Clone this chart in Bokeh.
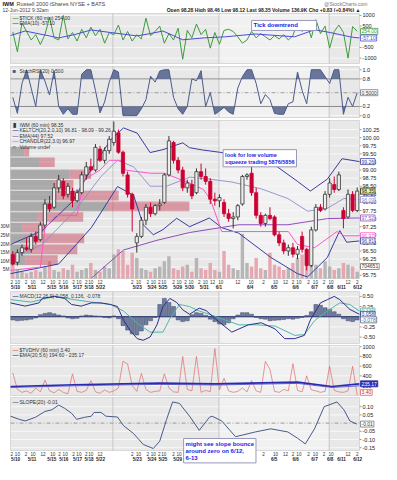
from bokeh.plotting import figure
from bokeh.models import (Range1d, Label, LabelSet, ColumnDataSource, BoxAnnotation)
from bokeh.layouts import column
from bokeh.core.properties import value
from bokeh.embed import file_html
from bokeh.resources import INLINE

# ---------------- data (IWM 60 min bars) ----------------
opens  = [96.40, 96.15, 96.45, 96.60, 96.55, 96.95, 96.85, 97.30,
          97.95, 97.85, 98.45, 98.65, 98.25, 98.35, 98.05, 98.30,
          98.85, 99.10, 99.00, 99.65, 99.30, 99.60, 99.85, 100.15,
          99.55, 98.85, 98.25, 96.75, 96.95, 97.45, 97.85, 97.65,
          97.90, 98.00, 98.85, 99.85, 99.30, 99.00, 98.45, 98.55,
          98.30, 98.95, 98.80, 98.65, 98.10, 98.05, 98.00, 97.65,
          97.50, 97.55, 97.95, 98.80, 98.90, 98.30, 97.60, 97.35,
          97.60, 97.55, 97.00, 96.75, 96.50, 96.60, 96.40, 96.95,
          96.55, 96.05, 97.15, 97.85, 97.80, 98.25, 98.55, 98.40,
          97.75, 97.55, 98.25, 97.75]
highs  = [96.50, 96.55, 96.70, 96.90, 97.05, 97.10, 97.40, 98.10,
          98.20, 98.60, 98.85, 98.75, 98.60, 98.45, 98.40, 98.95,
          99.25, 99.35, 99.80, 99.75, 99.70, 100.05, 100.50, 100.25,
          99.60, 98.95, 98.30, 97.05, 97.55, 97.95, 98.00, 97.95,
          98.10, 98.90, 100.05, 99.90, 99.40, 99.10, 98.70, 98.70,
          99.05, 99.20, 99.05, 98.75, 98.30, 98.25, 98.10, 97.80,
          97.70, 97.95, 98.85, 98.90, 99.15, 98.45, 97.70, 97.65,
          97.85, 97.60, 97.10, 96.85, 96.70, 96.75, 96.65, 97.10,
          96.60, 97.25, 97.95, 97.95, 98.35, 98.75, 98.80, 98.95,
          97.85, 98.40, 98.35, 98.46]
lows   = [96.05, 96.05, 96.35, 96.50, 96.45, 96.70, 96.80, 97.20,
          97.70, 97.80, 98.30, 98.10, 98.15, 97.85, 98.00, 98.25,
          98.70, 98.95, 98.95, 99.25, 99.20, 99.50, 99.75, 99.50,
          98.80, 98.15, 97.10, 96.45, 96.90, 97.30, 97.55, 97.60,
          97.75, 97.95, 98.80, 99.20, 98.90, 98.35, 98.30, 98.10,
          98.25, 98.70, 98.55, 97.95, 97.90, 97.85, 97.55, 97.40,
          97.20, 97.45, 97.90, 98.70, 98.20, 97.50, 97.25, 97.25,
          97.45, 96.95, 96.65, 96.40, 96.35, 96.30, 96.25, 96.45,
          95.90, 96.00, 97.10, 97.70, 97.75, 98.15, 98.30, 98.35,
          97.20, 97.50, 97.70, 97.70]
closes = [96.10, 96.45, 96.60, 96.55, 96.95, 96.80, 97.30, 97.95,
          97.80, 98.45, 98.70, 98.20, 98.50, 98.05, 98.30, 98.85,
          99.10, 99.00, 99.70, 99.30, 99.60, 99.95, 100.20, 99.55,
          98.90, 98.25, 97.80, 96.95, 97.45, 97.85, 97.65, 97.90,
          97.95, 98.85, 99.90, 99.30, 99.00, 98.45, 98.60, 98.20,
          98.95, 98.80, 98.65, 98.10, 98.05, 98.15, 97.65, 97.50,
          97.55, 97.90, 98.80, 98.85, 98.30, 97.60, 97.35, 97.60,
          97.50, 97.00, 96.75, 96.50, 96.60, 96.40, 96.55, 96.55,
          96.05, 97.15, 97.85, 97.75, 98.25, 98.60, 98.40, 98.85,
          97.50, 98.25, 97.75, 98.35]
volume = [12, 5, 4, 3, 4, 5, 4, 7,
          10, 5, 4, 6, 5, 8, 4, 5,
          6, 9, 5, 4, 7, 6, 14, 17,
          16, 8, 15, 12, 6, 5, 4, 6,
          7, 10, 13, 6, 5, 7, 8, 4,
          12, 6, 5, 9, 5, 4, 16, 8,
          6, 5, 26, 9, 7, 12, 6, 5,
          15, 8, 7, 5, 6, 9, 12, 14,
          16, 9, 8, 6, 10, 7, 5, 6,
          9, 8, 7, 4]

# volume by price (zones)
vbp_price = [99.57, 99.24, 98.87, 98.54, 98.21, 97.88, 97.55, 97.22, 96.89, 96.55, 96.22]
vbp_up    = [14, 29, 60, 44, 45, 99, 27, 12, 25, 20, 15]
vbp_down  = [5, 16, 22, 20, 65, 83, 47, 23, 50, 48, 33]

# Keltner channel, EMA(44), Chandelier (x in bar units)
kcu_x = [-0.5, 6.4, 13.0, 17.1, 21.3, 24.1, 27.1, 29.9, 32.7, 37.0, 38.5, 41.3, 45.0, 49.2, 57.1, 62.0, 64.8, 68.5, 71.7, 75.5]
kcu_y = [96.70, 97.13, 98.03, 99.03, 99.93, 100.30, 100.14, 99.54, 99.63, 99.84, 99.69, 99.62, 99.55, 99.45, 99.15, 98.65, 98.35, 98.72, 99.35, 99.26]
kcm_x = [-0.5, 6.4, 13.4, 19.2, 22.8, 26.3, 29.9, 33.5, 38.5, 42.8, 47.7, 54.1, 59.9, 64.2, 68.5, 72.1, 75.5]
kcm_y = [96.25, 96.70, 97.72, 98.80, 99.30, 99.10, 98.50, 98.50, 98.78, 98.72, 98.63, 98.42, 98.12, 97.73, 97.82, 98.12, 98.09]
kcl_x = [-0.5, 10.0, 17.1, 22.8, 26.3, 28.4, 30.6, 32.7, 35.7, 38.5, 42.8, 45.5, 49.2, 56.2, 62.0, 64.2, 68.5, 71.2, 72.7, 75.5]
kcl_y = [95.80, 96.10, 97.22, 98.49, 98.22, 97.31, 97.00, 97.16, 97.51, 97.25, 97.52, 97.22, 97.05, 96.30, 95.80, 95.70, 96.30, 97.13, 96.77, 96.81]
ema44_x = [17.1, 24.1, 31.4, 38.5, 49.2, 59.9, 68.5, 75.5]
ema44_y = [95.66, 96.53, 96.83, 97.07, 97.31, 97.31, 97.50, 97.52]
chan_x = [-0.5, 6.0, 7.0, 9.5, 14.0, 15.5, 19.0, 21.0, 24.0, 24.5, 30.0, 33.0, 38.5, 41.5, 43.0, 45.5, 60.0, 62.0, 65.7, 70.6, 72.1, 75.5]
chan_y = [95.90, 96.00, 97.20, 97.60, 97.60, 98.70, 99.00, 99.30, 99.30, 99.00, 98.90, 98.90, 98.60, 98.40, 98.10, 97.10, 97.10, 96.70, 96.60, 97.10, 96.97, 96.97]

# $TICK and EMA(10)
tick = [230, -700, 650, 250, -150, 100, -360, 100,
        910, -50, -150, 1000, -100, 200, -200, 350,
        -50, 450, 50, 350, -300, 200, 100, 550,
        -150, 250, -200, 100, -100, 870, 50, 250,
        500, -300, 150, -150, 400, -1050, 300, -50,
        600, 100, 350, -530, 200, -350, 300, 350,
        250, 0, -300, -150, 250, -50, 150, 0,
        -150, 50, -100, 100, -150, 50, 700, 250,
        650, -50, 800, 150, 500, -530, 250, 550,
        200, -1000, 480, 254]
tema_x = [-0.5, 2.7, 10.0, 13.4, 17.1, 21.3, 27.1, 29.9, 32.7, 37.0, 41.7, 46.4, 52.8, 61.4, 65.7, 69.1, 73.4, 75.5]
tema_y = [60, 270, -50, 100, 320, 200, 40, 150, 270, -140, -50, 0, 130, 0, 330, 200, 0, -57.1]

# StochRSI(20)
stoch = [0.40, 0.05, 0.70, 1.00, 0.60, 0.20, 1.00, 0.75,
         0.45, 0.98, 0.20, 0.03, 0.15, 0.03, 0.03, 0.90,
         1.00, 1.00, 0.55, 0.06, 0.30, 0.73, 1.00, 0.95,
         0.00, 0.00, 0.00, 0.00, 0.15, 0.35, 0.86, 0.73,
         0.97, 1.00, 1.00, 0.40, 0.15, 0.03, 0.20, 0.80,
         0.76, 0.98, 0.20, 0.50, 0.03, 0.10, 0.18, 0.08,
         0.03, 0.60, 0.85, 1.00, 1.00, 0.70, 0.26, 0.46,
         0.35, 0.05, 0.03, 0.03, 0.26, 0.30, 0.95, 0.55,
         0.26, 1.00, 1.00, 1.00, 0.85, 0.70, 1.00, 1.00,
         0.03, 0.40, 0.20, 0.50]

# MACD(12,26,9)
macd_x = [-0.5, 2.7, 5.7, 6.4, 9.1, 11.3, 12.8, 14.9, 17.1, 19.2, 21.3, 22.8, 24.1, 25.6, 27.1, 28.4, 29.9, 31.4, 32.7, 34.2, 35.7, 37.0, 38.5, 40.6, 42.1, 44.3, 47.7, 51.3, 54.1, 57.1, 59.2, 61.4, 63.5, 64.8, 67.0, 68.5, 70.0, 71.2, 73.4, 75.5]
macd_y = [0.34, 0.26, 0.34, 0.45, 0.50, 0.45, 0.30, 0.26, 0.34, 0.34, 0.30, 0.25, -0.08, -0.35, -0.54, -0.58, -0.50, -0.20, 0.25, 0.45, 0.35, 0.17, 0.06, 0.21, 0.15, -0.07, -0.38, -0.20, -0.15, -0.30, -0.54, -0.54, -0.46, -0.08, 0.34, 0.42, 0.50, 0.42, 0.18, 0.058]
sig_x = [-0.5, 4.0, 9.1, 13.4, 17.1, 21.3, 24.1, 27.1, 29.9, 32.7, 34.2, 36.3, 38.5, 40.6, 44.3, 49.2, 53.0, 57.1, 61.4, 63.5, 65.7, 68.5, 71.2, 73.4, 75.5]
sig_y = [0.42, 0.36, 0.50, 0.42, 0.36, 0.30, 0.14, -0.16, -0.38, -0.38, -0.05, 0.30, 0.25, 0.14, 0.00, -0.20, -0.20, -0.23, -0.46, -0.44, -0.10, 0.14, 0.34, 0.30, 0.136]
hist = [-0.08, -0.10, -0.09, -0.08, -0.06, -0.03,
        0.05, 0.08, 0.10, 0.07, 0.04, 0.02,
        -0.03, -0.05, -0.04, 0.02, 0.04, 0.03,
        0.02, 0.01, -0.02, -0.03, 0.02, -0.05,
        -0.22, -0.33, -0.42, -0.45, -0.35, -0.20,
        -0.10, -0.02, 0.30, 0.45, 0.35, 0.25,
        -0.08, -0.12, -0.10, 0.05, 0.10, 0.08,
        0.03, -0.06, -0.12, -0.18, -0.20, -0.15,
        -0.05, 0.04, 0.10, 0.10, 0.06, -0.02,
        -0.05, -0.06, -0.10, -0.09, -0.08, -0.07,
        -0.05, -0.06, -0.04, -0.02, 0.03, 0.12,
        0.30, 0.28, 0.22, 0.18, 0.12, 0.06,
        -0.05, -0.10, -0.12, -0.08]

# $TVDHV and its EMAs
tvdhv = [460, 120, 60, 90, 40, 150, 70, 310,
         90, 50, 120, 60, 30, 440, 80, 60,
         100, 300, 70, 40, 110, 60, 90, 150,
         700, 645, 200, 80, 450, 120, 60, 80,
         90, 440, 150, 70, 60, 800, 120, 90,
         800, 60, 100, 70, 960, 110, 350, 90,
         60, 80, 150, 70, 300, 90, 60, 700,
         530, 80, 60, 120, 90, 650, 100, 70,
         400, 110, 90, 60, 80, 600, 100, 70,
         60, 90, 600, 3.4]
tvea_x = [-0.5, 13.4, 32.0, 44.0, 62.0, 69.5, 75.5]
tvea_y = [180, 215, 250, 235, 270, 180, 235.17]
tveb_y = [160, 195, 225, 210, 245, 160, 194.60]

# SLOPE(20)
slope_x = [-0.5, 1.4, 2.7, 4.9, 7.0, 8.5, 10.0, 11.3, 12.8, 13.9, 15.6, 17.1, 17.7, 19.2, 20.3, 22.8, 24.1, 26.3, 28.4, 30.6, 32.0, 33.5, 34.8, 36.3, 38.5, 40.6, 42.8, 43.4, 45.5, 48.5, 52.8, 56.2, 59.9, 62.0, 63.7, 65.7, 67.8, 70.6, 72.1, 73.4, 74.9]
slope_y = [0.042, 0.023, 0.013, 0.035, 0.071, 0.081, 0.11, 0.09, 0.06, 0.023, 0.035, 0.042, 0.065, 0.065, 0.042, 0.037, -0.015, -0.064, -0.13, -0.155, -0.11, 0.023, 0.129, 0.12, 0.042, -0.044, 0.035, 0.042, 0.013, -0.083, -0.054, -0.035, -0.054, -0.092, -0.127, -0.035, 0.10, 0.129, 0.081, 0.013, -0.006]

# time axis
date_labels = ["5/10", "5/11", "5/15", "5/16", "5/17", "5/18", "5/22", "5/23", "5/24", "5/25", "5/29",
               "5/30", "5/31", "6/1", "6/4", "6/5", "6/6", "6/7", "6/8", "6/11", "6/12"]
date_bars = [0.6, 4.2, 8.5, 11.1, 14.1, 16.6, 19.1, 27.1, 30.3, 32.7, 35.9,
             38.5, 41.7, 44.9, 51.7, 56.9, 61.6, 65.7, 69.1, 71.6, 75.1]
hour_labels = ["2", "10", "2", "10", "12", "10", "2", "10", "2", "10",
               "2", "10", "12", "2", "10", "2", "10", "2", "10", "2",
               "10", "2", "10", "2", "10", "12", "10", "12", "10", "2",
               "10", "12", "2", "10", "2", "10", "2", "10", "12", "2"]
hour_bars = [-0.2, 1.0, 2.9, 4.4, 6.6, 8.7, 10.2, 11.4, 13.2, 14.4,
             16.0, 17.0, 19.0, 26.0, 27.4, 29.4, 30.6, 31.9, 32.9, 35.0,
             36.2, 37.6, 38.8, 40.6, 41.9, 43.5, 45.3, 49.0, 51.9, 54.6,
             57.2, 59.4, 61.0, 62.3, 64.4, 65.9, 67.8, 69.3, 73.0, 75.0]
section_bars = [21.8, 44.9, 68.9]

# ---------------- geometry / styling ----------------
FONT = "Liberation Sans"
BG = "#E8E8E8"
N = len(closes)
idx = list(range(N))
X0, X1 = -0.5, N - 0.5          # plotted bar area
LEFT, AREA, RIGHT = 10, 349, 22  # px
PX = AREA / (X1 - X0)            # px per bar
xr = Range1d(X0 - LEFT / PX, X1 + RIGHT / PX)


def ext(lo, hi, fh, top, bottom):
    u = (hi - lo) / fh
    return Range1d(lo - bottom * u, hi + top * u)


def panel(fh, ylo, yhi, ticks, fmt, top=1, bottom=1):
    p = figure(frame_width=LEFT + AREA + RIGHT, frame_height=fh + top + bottom,
               width=LEFT + AREA + RIGHT, height=fh + top + bottom, min_border=0,
               x_range=xr, y_range=ext(ylo, yhi, fh, top, bottom),
               x_axis_location=None, y_axis_location=None, toolbar_location=None,
               output_backend="svg", background_fill_color="white", border_fill_color="white",
               outline_line_color=None)
    p.grid.visible = False
    p.add_layout(BoxAnnotation(left=X0, right=X1, bottom=ylo, top=yhi, fill_color=BG, fill_alpha=1,
                               line_color=None, level="image"))
    p.add_layout(BoxAnnotation(left=section_bars[1], right=section_bars[2], bottom=ylo, top=yhi,
                               fill_color="#F1F1F1", fill_alpha=1, line_color=None, level="image"))
    p.segment(x0=X0, y0=ticks, x1=X1, y1=ticks, line_color="#F8F8F8", line_width=1)
    p.segment(x0=section_bars, y0=ylo, x1=section_bars, y1=yhi, line_color="#C6C6C6", line_width=1)
    p.add_layout(BoxAnnotation(left=X0, right=X1, bottom=ylo, top=yhi, fill_alpha=0,
                               line_color="#9A9A9A", line_width=1))
    p.segment(x0=X1, y0=ticks, x1=X1 + 2 / PX, y1=ticks, line_color="#9A9A9A", line_width=1)
    p.text(x=[X1 + 3 / PX] * len(ticks), y=ticks, text=[fmt % t for t in ticks],
           text_font=value(FONT), text_font_size="5.5px", text_color="#222222",
           text_align="left", text_baseline="middle")
    return p


def legend(p, top_y, items):
    for i, (mk, col, txt) in enumerate(items):
        y = top_y - 4 - 5.6 * i
        p.add_layout(Label(x=LEFT + 2, y=y, x_units="screen", y_units="screen", text=mk, text_color=col,
                           text_font=FONT, text_font_size="6px", text_font_style="bold",
                           text_baseline="middle"))
        p.add_layout(Label(x=LEFT + 9, y=y, x_units="screen", y_units="screen", text=txt,
                           text_color="#333333", text_font=FONT, text_font_size="5px",
                           text_baseline="middle"))


def vbox(p, y, txt, col, fill="white", tcol=None, rn="default"):
    p.add_layout(Label(x=X1 + 1 / PX, y=y, y_range_name=rn, text=txt,
                       text_font=FONT, text_font_size="5px", text_color=tcol or col,
                       text_baseline="middle", text_align="left", background_fill_color=fill,
                       border_line_color=col, border_line_width=0.8, padding=1))


def time_axis(p, bottom):
    hs = ColumnDataSource(dict(x=hour_bars, t=hour_labels))
    ds = ColumnDataSource(dict(x=date_bars, t=date_labels))
    p.add_layout(LabelSet(x="x", y=bottom - 3.5, y_units="screen", text="t", source=hs,
                          text_font=value(FONT), text_font_size=value("4.6px"),
                          text_align=value("center"), text_baseline=value("middle"),
                          text_color="#333333"))
    p.add_layout(LabelSet(x="x", y=bottom - 9, y_units="screen", text="t", source=ds,
                          text_font=value(FONT), text_font_size=value("4.6px"),
                          text_font_style=value("bold"),
                          text_align=value("center"), text_baseline=value("middle"),
                          text_color="#222222"))


def clip_band(xs, ys, level, above):
    ox, oy = [], []
    for i in range(len(xs)):
        if i > 0 and (ys[i - 1] - level) * (ys[i] - level) < 0:
            t = (level - ys[i - 1]) / (ys[i] - ys[i - 1])
            ox.append(xs[i - 1] + t * (xs[i] - xs[i - 1]))
            oy.append(level)
        ox.append(xs[i])
        oy.append(max(ys[i], level) if above else min(ys[i], level))
    return ox, oy


# ---------------- header ----------------
hdr = figure(frame_width=381, frame_height=12, width=381, height=12, min_border=0,
             x_range=Range1d(0, 1), y_range=Range1d(0, 1),
             toolbar_location=None, output_backend="svg", outline_line_color=None,
             x_axis_location=None, y_axis_location=None, background_fill_color="white",
             border_fill_color="white")
hdr.grid.visible = False
hdr.add_layout(Label(x=2, y=8.5, x_units="screen", y_units="screen", text="IWM", text_font=FONT,
                     text_font_size="5.5px", text_font_style="bold", text_color="#111111", text_baseline="middle"))
hdr.add_layout(Label(x=16, y=8.5, x_units="screen", y_units="screen", text="Russell 2000 iShares NYSE + BATS",
                     text_font=FONT, text_font_size="5.5px", text_color="#444444", text_baseline="middle"))
hdr.add_layout(Label(x=2, y=2.5, x_units="screen", y_units="screen", text="12-Jun-2012 9:32am",
                     text_font=FONT, text_font_size="5px", text_color="#444444", text_baseline="middle"))
hdr.add_layout(Label(x=367, y=8.5, x_units="screen", y_units="screen", text="@StockCharts.com",
                     text_font=FONT, text_font_size="5px", text_color="#777777", text_baseline="middle",
                     text_align="right"))
hdr.add_layout(Label(x=367, y=2.5, x_units="screen", y_units="screen",
                     text="Open 98.28  High 98.46  Low 98.12  Last 98.35  Volume 136.9K  Chg +0.83 (+0.84%) \u25b2",
                     text_font=FONT, text_font_size="5px", text_font_style="bold", text_color="#222222",
                     text_baseline="middle", text_align="right"))

# ---------------- $TICK panel ----------------
GREEN, TBLUE = "#3E9B3E", "#4B4BD8"
FH = 50
p_tick = panel(FH, -1250, 1090, [-1000, -500, 0, 500, 1000], "%d")
p_tick.line(idx, tick, line_color=GREEN, line_width=1)
p_tick.line(tema_x, tema_y, line_color=TBLUE, line_width=1)
legend(p_tick, FH + 1, [("\u2014", GREEN, "$TICK (60 min) 254.00"), ("\u2014", TBLUE, "EMA(10) -57.10")])
vbox(p_tick, 254, "254.00", GREEN)
vbox(p_tick, -57.1, "-57.10", TBLUE)
p_tick.add_layout(Label(x=52.0, y=530, text="Tick downtrend          ", text_font=FONT, text_font_size="6px",
                        text_font_style="bold", text_color="#1A1AE6", text_baseline="middle",
                        background_fill_color="white", border_line_color="#9999BB", padding=2))

# ---------------- StochRSI panel ----------------
SLATE = "#4A5B8C"
FH = 51
p_st = panel(FH, -0.04, 1.07, [0.0, 0.2, 0.8, 1.0], "%.1f", top=2)
p_st.segment(x0=[X0, X0], y0=[0.8, 0.2], x1=[X1, X1], y1=[0.8, 0.2], line_color="#8A8A8A", line_width=1)
p_st.segment(x0=X0, y0=0.5, x1=X1, y1=0.5, line_color="#9A9A9A", line_width=1, line_dash="4 2 1 2")
ox, oy = clip_band(idx, stoch, 0.8, True)
p_st.varea(x=ox, y1=[0.8] * len(ox), y2=oy, fill_color="#5A6890", fill_alpha=0.9)
ox, oy = clip_band(idx, stoch, 0.2, False)
p_st.varea(x=ox, y1=[0.2] * len(ox), y2=oy, fill_color="#5A6890", fill_alpha=0.9)
p_st.line(idx, stoch, line_color=SLATE, line_width=1)
legend(p_st, FH + 1, [("\u25a0", SLATE, "StochRSI(20) 0.500")])
vbox(p_st, 0.5, "0.5000", "#777777", tcol="#333333")

# ---------------- price panel ----------------
KC, KCM, EMAC, PINK = "#3B3BA0", "#8C8CD0", "#8E4FB8", "#FF55CC"
FH, PT, PB = 158, 2, 12
p_pr = panel(FH, 95.65, 100.53, [95.75 + 0.25 * k for k in range(19)], "%.2f", top=PT, bottom=PB)
p_pr.extra_y_ranges = {"vol": ext(0, 92, FH, PT, PB)}
p_pr.extra_x_ranges = {"vbp": Range1d(-LEFT * 355 / AREA, 355 + RIGHT * 355 / AREA)}
up = [c >= o for o, c in zip(opens, closes)]
vol_col = ["#ABABAB" if u else "#E59AA6" for u in up]
p_pr.vbar(x=idx, width=0.75, bottom=0, top=volume, y_range_name="vol", fill_color=vol_col,
          fill_alpha=0.85, line_color=None)
p_pr.hbar(y=vbp_price, left=0, right=vbp_up, height=0.30, x_range_name="vbp",
          fill_color="#7F7F7F", fill_alpha=0.6, line_color=None)
p_pr.hbar(y=vbp_price, left=vbp_up, right=[a + b for a, b in zip(vbp_up, vbp_down)], height=0.30,
          x_range_name="vbp", fill_color="#C0384F", fill_alpha=0.45, line_color=None)
p_pr.line(kcu_x, kcu_y, line_color=KC, line_width=1)
p_pr.line(kcm_x, kcm_y, line_color=KCM, line_width=0.9)
p_pr.line(kcl_x, kcl_y, line_color=KC, line_width=1)
p_pr.line(ema44_x, ema44_y, line_color=EMAC, line_width=1)
p_pr.line(chan_x, chan_y, line_color=PINK, line_width=1)
wick_col = ["#333333" if u else "#CC0033" for u in up]
p_pr.segment(x0=idx, y0=highs, x1=idx, y1=lows, line_color=wick_col, line_width=1)
body_top = [max(o, c) for o, c in zip(opens, closes)]
body_bot = [min(o, c) for o, c in zip(opens, closes)]
body_fill = ["#EDEDED" if u else "#CC0033" for u in up]
p_pr.vbar(x=idx, width=0.7, top=body_top, bottom=body_bot, fill_color=body_fill,
          line_color=wick_col, line_width=0.8)
vol_ticks = [5, 10, 15, 20, 25, 30]
p_pr.text(x=[X0 - 1 / PX] * len(vol_ticks), y=vol_ticks, text=["%dM" % v for v in vol_ticks],
          y_range_name="vol", text_font=value(FONT), text_font_size="4.8px", text_color="#333333",
          text_align="right", text_baseline="middle")
legend(p_pr, FH + PB, [("\u25ae", "#333333", "IWM (60 min) 98.35"),
                       ("\u2014", KC, "KELTCH(20,2.0,10) 96.81 - 98.09 - 99.26"),
                       ("\u2014", EMAC, "EMA(44) 97.52"),
                       ("\u2014", PINK, "CHANDLR(22,3.0) 96.97"),
                       ("\u25a0", "#999999", "Volume undef")])
vbox(p_pr, 99.26, "99.26", KC)
vbox(p_pr, 98.35, "98.35", "#222222", fill="#FFF7A0", tcol="#111111")
vbox(p_pr, 98.09, "98.09", KCM)
vbox(p_pr, 97.52, "97.52", EMAC)
vbox(p_pr, 96.97, "96.97", PINK)
vbox(p_pr, 96.81, "96.81", KC)
vbox(p_pr, 7.0, "704651", "#777777", tcol="#333333", rn="vol")
p_pr.add_layout(Label(x=45.8, y=99.63, text="look for low volume\nsqueeze trading 5876/5856",
                      text_font=FONT, text_font_size="5.5px", text_font_style="bold", text_color="#1A1AE6",
                      text_baseline="top", background_fill_color="white", border_line_color="#9999BB",
                      padding=2))
time_axis(p_pr, PB)

# ---------------- MACD panel ----------------
MACDC, SIGC = "#2E2E8A", "#4FB8A8"
FH = 52
p_m = panel(FH, -0.66, 0.62, [-0.5, -0.25, 0.25, 0.5], "%.2f")
p_m.vbar(x=idx, width=0.85, bottom=0, top=hist, fill_color="#6F7C9C", line_color="#3F4B6E", line_width=0.5)
p_m.segment(x0=X0, y0=0, x1=X1, y1=0, line_color="#3D4A7A", line_width=1.2)
p_m.line(sig_x, sig_y, line_color=SIGC, line_width=1)
p_m.line(macd_x, macd_y, line_color=MACDC, line_width=1)
legend(p_m, FH + 1, [("\u2014", MACDC, "MACD(12,26,9) 0.058, 0.136, -0.078")])
vbox(p_m, 0.136, "0.136", SIGC)
vbox(p_m, 0.058, "0.058", MACDC)
vbox(p_m, -0.078, "-0.078", "#5A6890")

# ---------------- $TVDHV panel ----------------
REDL, EBLUE, EBLUE2 = "#E06666", "#2B2BB0", "#6A6AD0"
FH = 50
p_tv = panel(FH, -5, 1025, [200, 400, 600, 800, 1000], "%d")
p_tv.line(idx, tvdhv, line_color=REDL, line_width=0.8, line_alpha=0.85)
p_tv.line(tvea_x, tveb_y, line_color=EBLUE2, line_width=1)
p_tv.line(tvea_x, tvea_y, line_color=EBLUE, line_width=1.6)
legend(p_tv, FH + 1, [("\u2014", REDL, "$TVDHV (60 min) 3.40"), ("\u2014", EBLUE, "EMA(20,5,6) 194.60 - 235.17")])
vbox(p_tv, 235.17, "235.17", EBLUE, fill=EBLUE, tcol="white")
vbox(p_tv, 60, "3.40", REDL, tcol="#CC2222")

# ---------------- SLOPE panel ----------------
SLC = "#4A5A8A"
FH, SB = 53, 14
p_sl = panel(FH, -0.167, 0.156, [-0.15, -0.10, -0.05, 0.05, 0.10], "%.2f", bottom=SB)
p_sl.segment(x0=X0, y0=0, x1=X1, y1=0, line_color="#9A9A9A", line_width=1, line_dash="4 2 1 2")
p_sl.line(slope_x, slope_y, line_color=SLC, line_width=1)
legend(p_sl, FH + SB, [("\u2014", SLC, "SLOPE(20) -0.01")])
vbox(p_sl, -0.006, "-0.01", "#777777", tcol="#333333")
time_axis(p_sl, SB)
p_sl.add_layout(Label(x=37.2, y=SB + 12, x_units="data", y_units="screen",
                      text="might see slope bounce\naround zero on 6/12,\n6-13",
                      text_font=FONT, text_font_size="6px", text_font_style="bold", text_color="#1A1AE6",
                      text_baseline="top", background_fill_color="white", border_line_color="#9999BB",
                      padding=2))

layout = column(hdr, p_tick, p_st, p_pr, p_m, p_tv, p_sl, spacing=0)
open("out.html", "w").write(file_html(layout, INLINE))
